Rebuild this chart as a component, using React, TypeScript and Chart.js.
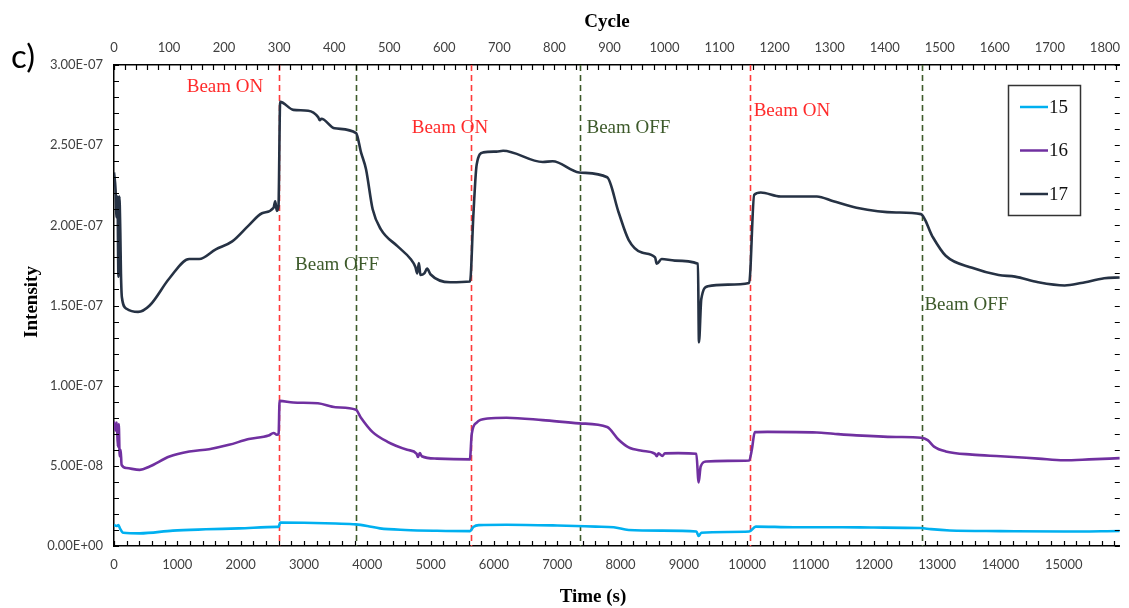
import React, { useEffect, useRef } from 'react';
import { Chart, registerables } from 'chart.js';

Chart.register(...registerables);

// ---------- data (intensity in units of 1E-07) ----------
const TIME_15 = [0, 40, 70, 94, 146, 407, 929, 1450, 1972, 2572, 2600, 2624, 3000, 3500, 3820, 4000, 4200, 4600, 5100, 5620, 5680, 5760, 6200, 7000, 7606, 7892, 8127, 8649, 9197, 9233, 9275, 9692, 10031, 10136, 10736, 11500, 12000, 12743, 12900, 13200, 14000, 15000, 15884];
const INT_15 = [0.131, 0.125, 0.13, 0.11, 0.083, 0.079, 0.096, 0.104, 0.11, 0.119, 0.12, 0.146, 0.145, 0.14, 0.135, 0.125, 0.11, 0.1, 0.095, 0.093, 0.12, 0.13, 0.133, 0.128, 0.121, 0.117, 0.1, 0.096, 0.09, 0.0625, 0.083, 0.0875, 0.09, 0.121, 0.117, 0.117, 0.115, 0.112, 0.105, 0.097, 0.093, 0.09, 0.094];

const TIME_16 = [0, 25, 45, 60, 75, 90, 105, 120, 198, 407, 563, 876, 1189, 1502, 1815, 2128, 2441, 2520, 2572, 2600, 2615, 2830, 3220, 3500, 3820, 3900, 4085, 4320, 4630, 4780, 4800, 4830, 4860, 5100, 5620, 5650, 5728, 5900, 6200, 6771, 7345, 7788, 7970, 8127, 8336, 8545, 8571, 8600, 8660, 8700, 8909, 9197, 9233, 9265, 9354, 9692, 10031, 10073, 10120, 10318, 11100, 11361, 11726, 12352, 12743, 12850, 12950, 13135, 13552, 14000, 14600, 15000, 15400, 15884];
const INT_16 = [0.777, 0.72, 0.77, 0.62, 0.76, 0.56, 0.6, 0.506, 0.486, 0.475, 0.496, 0.558, 0.589, 0.604, 0.631, 0.667, 0.689, 0.705, 0.694, 0.7, 0.905, 0.895, 0.89, 0.865, 0.85, 0.8, 0.71, 0.65, 0.6, 0.575, 0.555, 0.58, 0.56, 0.545, 0.54, 0.7, 0.77, 0.795, 0.8, 0.785, 0.765, 0.742, 0.6625, 0.615, 0.594, 0.575, 0.56, 0.578, 0.562, 0.578, 0.579, 0.575, 0.396, 0.496, 0.527, 0.531, 0.533, 0.6, 0.71, 0.712, 0.708, 0.7, 0.69, 0.68, 0.675, 0.66, 0.62, 0.59, 0.57, 0.56, 0.545, 0.535, 0.54, 0.548];

const TIME_17 = [0, 25, 40, 55, 70, 85, 100, 110, 125, 198, 380, 563, 876, 1189, 1346, 1607, 1867, 2128, 2337, 2520, 2546, 2572, 2598, 2624, 2833, 3067, 3224, 3250, 3275, 3485, 3823, 3901, 3980, 4085, 4215, 4476, 4684, 4760, 4789, 4815, 4840, 4900, 4945, 4997, 5310, 5623, 5675, 5728, 5832, 6041, 6145, 6771, 6927, 7345, 7788, 7970, 8127, 8336, 8545, 8571, 8649, 8858, 9222, 9238, 9275, 9379, 9692, 10031, 10110, 10214, 10527, 11100, 11361, 11726, 12352, 12743, 12926, 13135, 13552, 13970, 14230, 14596, 15013, 15274, 15638, 15884];
const INT_17 = [2.33, 2.22, 2.05, 2.18, 1.68, 2.18, 1.95, 1.7, 1.55, 1.48, 1.46, 1.5, 1.67, 1.79, 1.79, 1.85, 1.9, 2.0, 2.075, 2.11, 2.15, 2.09, 2.12, 2.77, 2.72, 2.715, 2.675, 2.655, 2.665, 2.605, 2.575, 2.455, 2.35, 2.1, 1.975, 1.87, 1.79, 1.74, 1.7, 1.765, 1.69, 1.7, 1.73, 1.695, 1.645, 1.65, 2.06, 2.38, 2.455, 2.46, 2.465, 2.395, 2.4, 2.33, 2.3, 2.08, 1.91, 1.83, 1.8, 1.76, 1.79, 1.78, 1.76, 1.27, 1.54, 1.62, 1.63, 1.64, 2.19, 2.205, 2.18, 2.18, 2.15, 2.11, 2.08, 2.07, 1.93, 1.81, 1.735, 1.69, 1.68, 1.645, 1.625, 1.64, 1.67, 1.675];

const SERIES_LABELS = ['15', '16', '17'];
const SERIES_COLORS = ['#00b0f0', '#7030a0', '#263244'];

const BEAM_ON_TIMES = [2610, 5645, 10045];
const BEAM_OFF_TIMES = [3820, 7360, 12755];

// annotation anchor (time s, intensity 1E-07)
const BEAM_ON_LABEL_T = [1753, 5306, 10706];
const BEAM_ON_LABEL_V = [2.86, 2.61, 2.71];
const BEAM_OFF_LABEL_T = [3522, 8124, 13461];
const BEAM_OFF_LABEL_V = [1.75, 2.61, 1.506];

const TIME_TICKS = [0, 1000, 2000, 3000, 4000, 5000, 6000, 7000, 8000, 9000, 10000, 11000, 12000, 13000, 14000, 15000];
const CYCLE_TICKS = [0, 100, 200, 300, 400, 500, 600, 700, 800, 900, 1000, 1100, 1200, 1300, 1400, 1500, 1600, 1700, 1800];
const INTENSITY_TICKS = [0, 0.5, 1, 1.5, 2, 2.5, 3];

const X_MAX = 15884;
const CYCLE_MAX = 1827;
const Y_MAX = 3;

function fmtSci(v: number): string {
  const real = v * 1e-7;
  if (Math.abs(real) < 1e-20) return '0.00E+00';
  const exp = Math.floor(Math.log10(Math.abs(real)) + 1e-9);
  const mant = real / Math.pow(10, exp);
  const e = Math.abs(exp);
  return mant.toFixed(2) + 'E' + (exp < 0 ? '-' : '+') + (e < 10 ? '0' + e : String(e));
}

function toPoints(ts: number[], vs: number[]) {
  return ts.map((t, i) => ({ x: t, y: vs[i] }));
}

const SERIF = '"Liberation Serif", "Times New Roman", serif';
const SANS = 'Lato, "Open Sans", sans-serif';

const overlayPlugin = {
  id: 'overlay',
  beforeDatasetsDraw(chart: any) {
    const { ctx, chartArea } = chart;
    const xs = chart.scales.x;
    ctx.save();
    ctx.lineWidth = 1.6;
    ctx.setLineDash([6, 4]);
    ctx.strokeStyle = '#ff3b3b';
    BEAM_ON_TIMES.forEach((t) => {
      const px = Math.round(xs.getPixelForValue(t)) + 0.5;
      ctx.beginPath();
      ctx.moveTo(px, chartArea.top);
      ctx.lineTo(px, chartArea.bottom);
      ctx.stroke();
    });
    ctx.strokeStyle = '#3d5a2a';
    BEAM_OFF_TIMES.forEach((t) => {
      const px = Math.round(xs.getPixelForValue(t)) + 0.5;
      ctx.beginPath();
      ctx.moveTo(px, chartArea.top);
      ctx.lineTo(px, chartArea.bottom);
      ctx.stroke();
    });
    ctx.restore();
  },
  afterDraw(chart: any) {
    const { ctx, chartArea } = chart;
    const xs = chart.scales.x;
    const x2 = chart.scales.x2;
    const ys = chart.scales.y;
    ctx.save();
    // inside tick marks
    ctx.strokeStyle = '#000';
    ctx.lineWidth = 1.2;
    ctx.setLineDash([]);
    const TL = 5;
    ctx.beginPath();
    for (let t = 0; t <= X_MAX; t += 200) {
      const px = Math.round(xs.getPixelForValue(t)) + 0.5;
      ctx.moveTo(px, chartArea.bottom);
      ctx.lineTo(px, chartArea.bottom - TL);
    }
    for (let c = 0; c <= CYCLE_MAX; c += 20) {
      const px = Math.round(x2.getPixelForValue(c)) + 0.5;
      ctx.moveTo(px, chartArea.top);
      ctx.lineTo(px, chartArea.top + TL);
    }
    for (let i = 0; i <= 30; i++) {
      const py = Math.round(ys.getPixelForValue(i / 10)) + 0.5;
      ctx.moveTo(chartArea.left, py);
      ctx.lineTo(chartArea.left + TL, py);
      ctx.moveTo(chartArea.right, py);
      ctx.lineTo(chartArea.right - TL, py);
    }
    ctx.stroke();

    // annotations
    ctx.font = '19px ' + SERIF;
    ctx.textAlign = 'center';
    ctx.textBaseline = 'middle';
    ctx.fillStyle = '#ff2a2a';
    BEAM_ON_LABEL_T.forEach((t, i) => {
      ctx.fillText('Beam ON', xs.getPixelForValue(t), ys.getPixelForValue(BEAM_ON_LABEL_V[i]));
    });
    ctx.fillStyle = '#3d5a2a';
    BEAM_OFF_LABEL_T.forEach((t, i) => {
      ctx.fillText('Beam OFF', xs.getPixelForValue(t), ys.getPixelForValue(BEAM_OFF_LABEL_V[i]));
    });

    // legend box
    const bx = 1008, by = 85, bw = 72, bh = 130;
    ctx.fillStyle = '#fff';
    ctx.fillRect(bx, by, bw, bh);
    ctx.strokeStyle = '#333';
    ctx.lineWidth = 1.5;
    ctx.strokeRect(bx + 0.5, by + 0.5, bw, bh);
    ctx.font = '19px ' + SERIF;
    ctx.textAlign = 'left';
    SERIES_LABELS.forEach((lab, i) => {
      const yy = by + 22 + i * 43.5;
      ctx.strokeStyle = SERIES_COLORS[i];
      ctx.lineWidth = 2.5;
      ctx.beginPath();
      ctx.moveTo(bx + 12, yy);
      ctx.lineTo(bx + 40, yy);
      ctx.stroke();
      ctx.fillStyle = '#111';
      ctx.fillText(lab, bx + 41, yy + 1);
    });

    // axis titles
    ctx.fillStyle = '#000';
    ctx.font = 'bold 19px ' + SERIF;
    ctx.textAlign = 'center';
    ctx.fillText('Cycle', 607, 22);
    ctx.fillText('Time (s)', 593, 597);
    ctx.save();
    ctx.translate(32, 302);
    ctx.rotate(-Math.PI / 2);
    ctx.fillText('Intensity', 0, 0);
    ctx.restore();

    // panel label
    ctx.font = '33px ' + SANS;
    ctx.textAlign = 'left';
    ctx.fillText('c)', 11, 57);
    ctx.restore();
  },
};

export default function App() {
  const canvasRef = useRef<HTMLCanvasElement | null>(null);

  useEffect(() => {
    if (!canvasRef.current) return;
    const tickFont = { family: SANS, size: 13 };
    const border = { display: true, color: '#000', width: 1.5 };
    const chart = new Chart(canvasRef.current, {
      type: 'line',
      data: {
        datasets: [
          { label: SERIES_LABELS[0], data: toPoints(TIME_15, INT_15), borderColor: SERIES_COLORS[0] },
          { label: SERIES_LABELS[1], data: toPoints(TIME_16, INT_16), borderColor: SERIES_COLORS[1] },
          { label: SERIES_LABELS[2], data: toPoints(TIME_17, INT_17), borderColor: SERIES_COLORS[2] },
        ].map((d) => ({
          ...d,
          borderWidth: 2.6,
          pointRadius: 0,
          fill: false,
          cubicInterpolationMode: 'monotone' as const,
          xAxisID: 'x',
          yAxisID: 'y',
        })),
      },
      options: {
        animation: false,
        responsive: false,
        devicePixelRatio: 1,
        layout: { padding: 0 },
        plugins: { legend: { display: false }, tooltip: { enabled: false } },
        scales: {
          x: {
            type: 'linear',
            position: 'bottom',
            min: 0,
            max: X_MAX,
            afterBuildTicks: (s: any) => { s.ticks = TIME_TICKS.map((v) => ({ value: v })); },
            afterFit: (s: any) => { s.height = 62; },
            grid: { display: false, drawTicks: false },
            border,
            ticks: { padding: 11, font: tickFont, color: '#404040', maxRotation: 0, autoSkip: false, callback: (v: any) => String(v) },
          },
          x2: {
            type: 'linear',
            position: 'top',
            min: 0,
            max: CYCLE_MAX,
            afterBuildTicks: (s: any) => { s.ticks = CYCLE_TICKS.map((v) => ({ value: v })); },
            afterFit: (s: any) => { s.height = 65; },
            grid: { display: false, drawTicks: false },
            border,
            ticks: { padding: 9, font: tickFont, color: '#404040', maxRotation: 0, autoSkip: false, callback: (v: any) => String(v) },
          },
          y: {
            type: 'linear',
            position: 'left',
            min: 0,
            max: Y_MAX,
            afterBuildTicks: (s: any) => { s.ticks = INTENSITY_TICKS.map((v) => ({ value: v })); },
            afterFit: (s: any) => { s.width = 114; },
            grid: { display: false, drawTicks: false },
            border,
            ticks: { padding: 11, font: tickFont, color: '#404040', autoSkip: false, callback: (v: any) => fmtSci(Number(v)) },
          },
        },
      } as any,
      plugins: [overlayPlugin],
    });
    return () => chart.destroy();
  }, []);

  return (
    <div style={{ position: 'fixed', left: 0, top: 0, width: 1129, height: 608, background: '#fff' }}>
      <canvas ref={canvasRef} width={1129} height={608} style={{ display: 'block' }} />
    </div>
  );
}
